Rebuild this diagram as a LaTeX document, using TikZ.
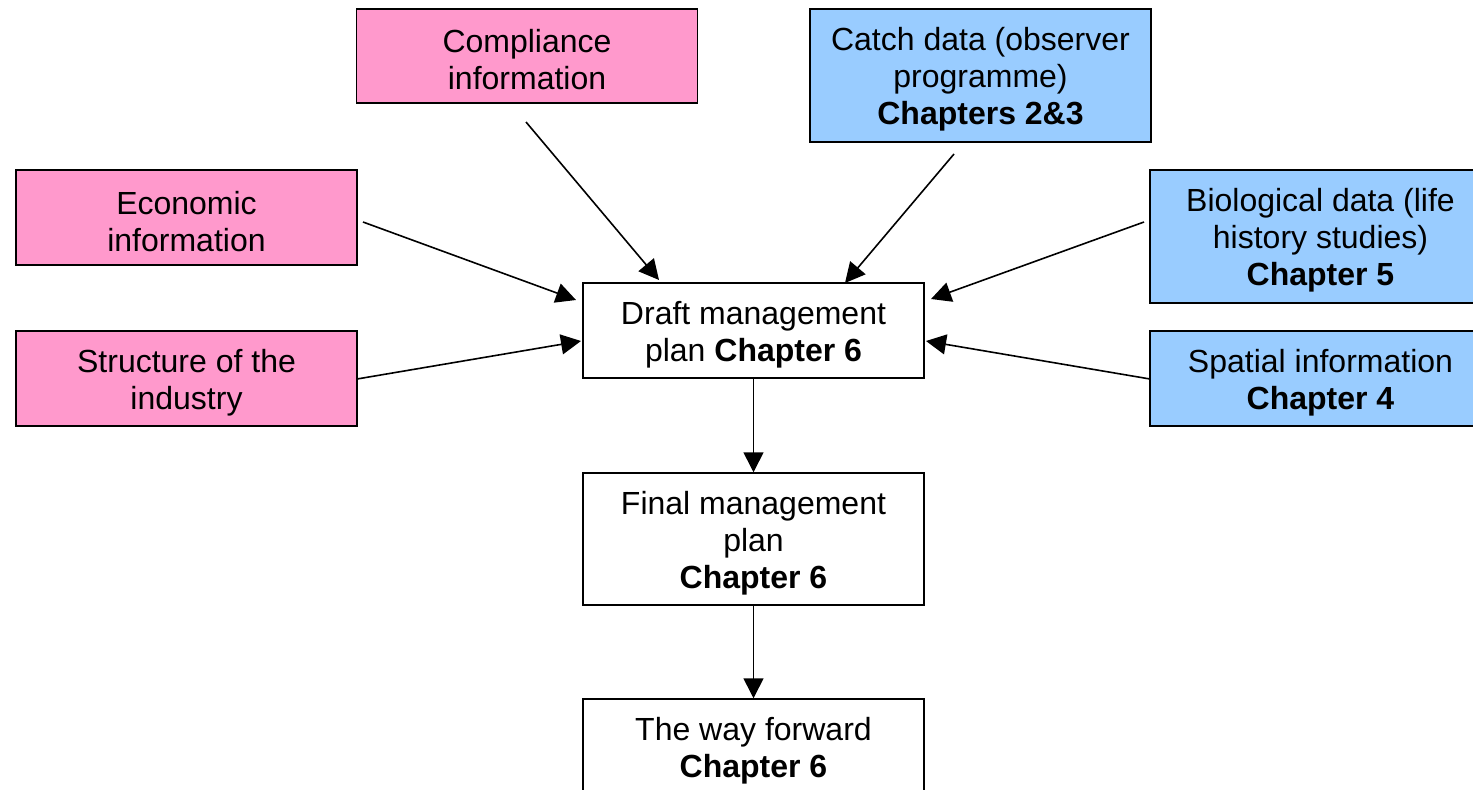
\documentclass[tikz,border=0pt]{standalone}
\usepackage{fontspec}
\setmainfont{Liberation Sans}
\usetikzlibrary{arrows.meta}
\definecolor{pinkbox}{HTML}{FF99CC}
\definecolor{bluebox}{HTML}{99CCFF}
\newcommand{\firststrut}{\rule{0pt}{31pt}}
\begin{document}
\begin{tikzpicture}[x=1pt,y=-1pt,
  box/.style={draw=black, line width=1.5pt, align=center, inner sep=0pt,
    font=\fontsize{32}{37}\selectfont, minimum width=341pt},
  pbox/.style={box, fill=pinkbox},
  bbox/.style={box, fill=bluebox},
  wbox/.style={box, fill=white},
  conn/.style={line width=1.6pt, -{Triangle[length=20pt,width=20pt]}}]
\path[use as bounding box] (0,0) rectangle (1473,790);
\clip (0,0) rectangle (1473,790);
\node[pbox, minimum height=94pt] (comp) at (527,56) {\firststrut Compliance\\information};
\node[bbox, minimum height=133pt] (catch) at (980.5,75.5) {\firststrut Catch data (observer\\programme)\\\textbf{Chapters 2\&3}};
\node[pbox, minimum height=95pt] (econ) at (186.5,217.5) {\firststrut Economic\\information};
\node[bbox, minimum height=133pt] (bio) at (1320.5,236.5) {\firststrut Biological data (life\\history studies)\\\textbf{Chapter 5}};
\node[pbox, minimum height=95pt] (struct) at (186.5,378.5) {\firststrut Structure of the\\industry};
\node[bbox, minimum height=95pt] (spatial) at (1320.5,378.5) {\firststrut Spatial information\\\textbf{Chapter 4}};
\node[wbox, minimum height=95pt] (draft) at (753.5,330.5) {\firststrut Draft management\\plan \textbf{Chapter 6}};
\node[wbox, minimum height=132pt] (final) at (753.5,539) {\firststrut Final management\\plan\\\textbf{Chapter 6}};
\node[wbox, minimum height=95pt] (way) at (753.5,746.5) {\firststrut The way forward\\\textbf{Chapter 6}};
% connector end points (gaps beside the boxes)
\coordinate (c1) at (526,122);  \coordinate (d1) at (659,280);
\coordinate (c2) at (954,154);  \coordinate (d2) at (845,283);
\coordinate (c3) at (363,222);  \coordinate (d3) at (576,300);
\coordinate (c4) at (357,379);  \coordinate (d4) at (581,341);
\coordinate (c5) at (1144,222); \coordinate (d5) at (931,299);
\coordinate (c6) at (1150,379); \coordinate (d6) at (926,341);
\draw[conn] (c1) -- (d1);
\draw[conn] (c2) -- (d2);
\draw[conn] (c3) -- (d3);
\draw[conn] (c4) -- (d4);
\draw[conn] (c5) -- (d5);
\draw[conn] (c6) -- (d6);
\draw[conn] (draft.south) -- (final.north);
\draw[conn] (final.south) -- (way.north);
\end{tikzpicture}
\end{document}
